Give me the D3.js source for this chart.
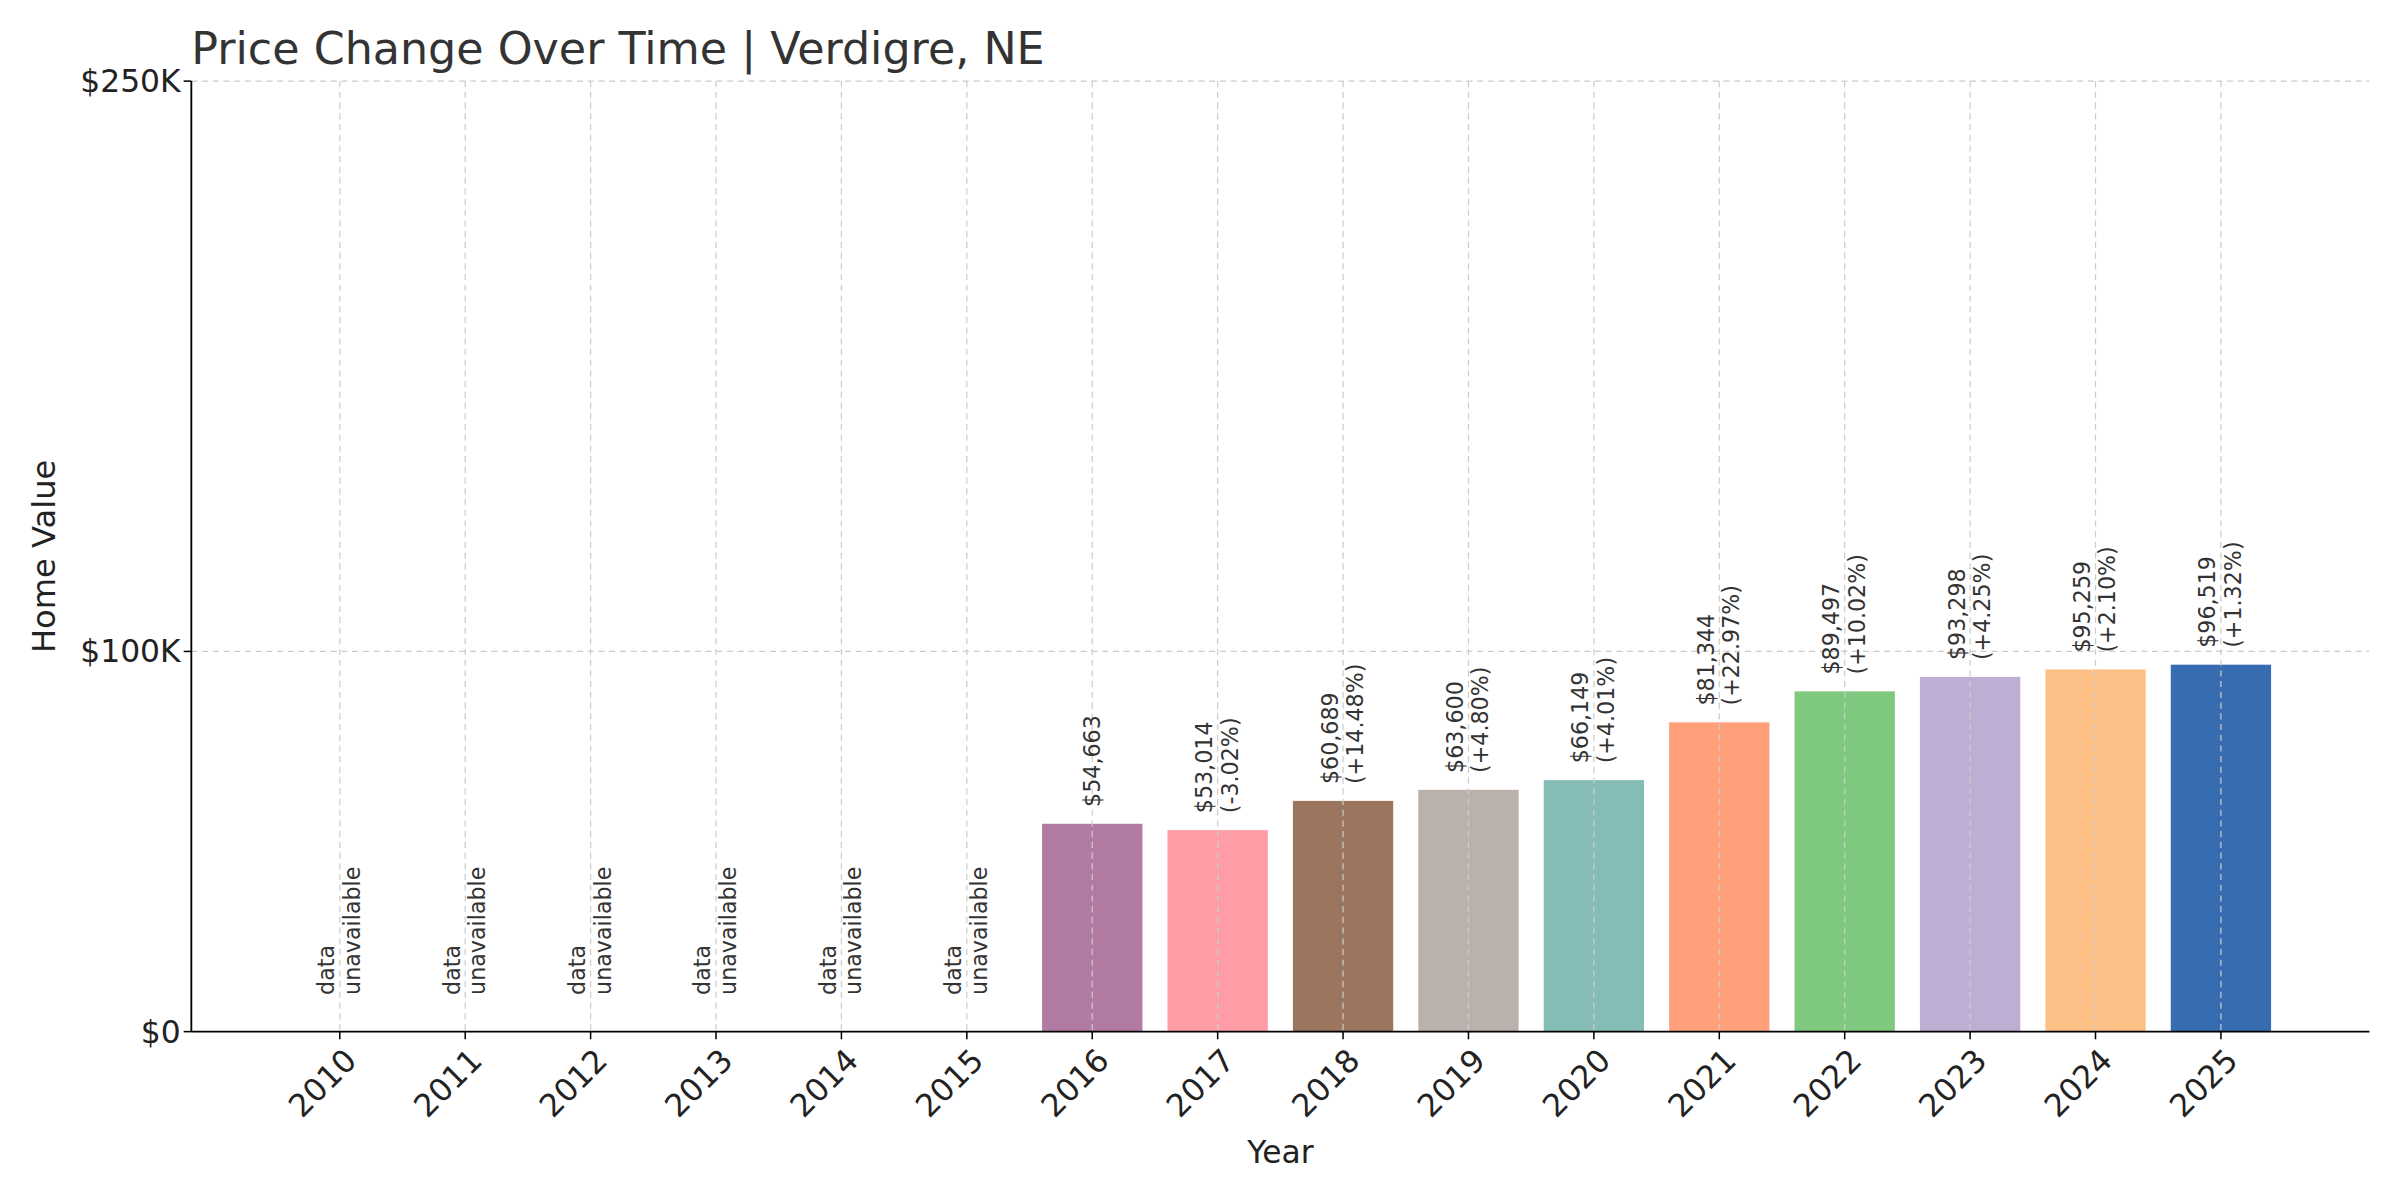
<!DOCTYPE html>
<html><head><meta charset="utf-8">
<script src="https://cdn.jsdelivr.net/npm/d3@7"></script>
<style>body{margin:0;background:#fff}svg{display:block}</style>
</head><body>
<svg id="c" width="2400" height="1200" viewBox="0 0 1568 784"></svg>
<script>
const years = [2010,2011,2012,2013,2014,2015,2016,2017,2018,2019,2020,2021,2022,2023,2024,2025];
const values = [null,null,null,null,null,null,54663,53014,60689,63600,66149,81344,89497,93298,95259,96519];
const changes = [null,null,null,null,null,null,null,"-3.02%","+14.48%","+4.80%","+4.01%","+22.97%","+10.02%","+4.25%","+2.10%","+1.32%"];
const colors = ["#ccc","#ccc","#ccc","#ccc","#ccc","#ccc","#b07aa1","#ff9da7","#9c755f","#bab0ac","#86bcb6","#ffa07a","#7fc97f","#beaed4","#fdc086","#386cb0"];
const yTicks = [0,100000,250000];
const tickLabels = ["$0","$100K","$250K"];

const svg = d3.select("#c");
const font = "DejaVu Sans, sans-serif";
const L=125,R=1548,T=53,B=674;
const xp = d3.scalePoint().domain(years).range([222,1451]);
const bw = (xp(2011)-xp(2010))*0.8;
const y = d3.scaleLinear().domain([0,250000]).range([B,T]);

svg.append("g").selectAll("line").data(yTicks).join("line")
 .attr("x1",L).attr("x2",R).attr("y1",d=>y(d)).attr("y2",d=>y(d))
 .attr("stroke","#ccc").attr("stroke-dasharray","4,3").attr("stroke-width",0.8);

const data = years.map((yr,i)=>({yr,v:values[i],c:changes[i],col:colors[i]}));
svg.append("g").selectAll("rect").data(data.filter(d=>d.v!=null)).join("rect")
 .attr("x",d=>xp(d.yr)-bw/2).attr("width",bw).attr("y",d=>y(d.v)).attr("height",d=>B-y(d.v)).attr("fill",d=>d.col);

svg.append("g").selectAll("line").data(years).join("line")
 .attr("x1",d=>xp(d)).attr("x2",d=>xp(d)).attr("y1",T).attr("y2",B)
 .attr("stroke","#ccc").attr("stroke-dasharray","4,3").attr("stroke-width",0.8);

const lab = svg.append("g").attr("font-family",font).attr("font-size",14.5).attr("fill","#333");
data.forEach(d=>{
  const cx=xp(d.yr);
  if(d.v==null){
    const t=lab.append("text").attr("transform",`translate(${cx},${B-24}) rotate(-90)`);
    t.append("tspan").attr("x",0).attr("dy","-0.25em").text("data");
    t.append("tspan").attr("x",0).attr("dy","1.15em").text("unavailable");
  } else {
    const yy=y(d.v)-11;
    const t=lab.append("text").attr("transform",`translate(${cx},${yy}) rotate(-90)`);
    if(d.c==null){
      t.append("tspan").attr("x",0).attr("dy","0.35em").text("$"+d3.format(",")(d.v));
    } else {
      t.append("tspan").attr("x",0).attr("dy","-0.25em").text("$"+d3.format(",")(d.v));
      t.append("tspan").attr("x",0).attr("dy","1.15em").text("("+d.c+")");
    }
  }
});

svg.append("line").attr("x1",L).attr("x2",L).attr("y1",T).attr("y2",B).attr("stroke","#000").attr("stroke-width",1.2);
svg.append("line").attr("x1",L).attr("x2",R).attr("y1",B).attr("y2",B).attr("stroke","#000").attr("stroke-width",1.2);
const ya = svg.append("g").attr("font-family",font).attr("font-size",20.5).attr("fill","#222");
yTicks.forEach((t,i)=>{
  svg.append("line").attr("x1",L-5).attr("x2",L).attr("y1",y(t)).attr("y2",y(t)).attr("stroke","#000");
  ya.append("text").attr("x",L-7).attr("y",y(t)).attr("dy","0.35em").attr("text-anchor","end").text(tickLabels[i]);
});
const xa = svg.append("g").attr("font-family",font).attr("font-size",20.5).attr("fill","#222");
years.forEach(yr=>{
  svg.append("line").attr("x1",xp(yr)).attr("x2",xp(yr)).attr("y1",B).attr("y2",B+5).attr("stroke","#000");
  xa.append("text").attr("transform",`translate(${xp(yr)+2},${B+10}) rotate(-45)`).attr("text-anchor","end").attr("dy","0.7em").text(yr);
});
svg.append("text").attr("x",(L+R)/2).attr("y",760).attr("text-anchor","middle").attr("font-family",font).attr("font-size",20.5).attr("fill","#222").text("Year");
svg.append("text").attr("transform",`translate(36,${(T+B)/2}) rotate(-90)`).attr("text-anchor","middle").attr("font-family",font).attr("font-size",21).attr("fill","#222").text("Home Value");
svg.append("text").attr("x",L).attr("y",42).attr("font-family",font).attr("font-size",29).attr("fill","#333").text("Price Change Over Time | Verdigre, NE");
</script>
</body></html>
